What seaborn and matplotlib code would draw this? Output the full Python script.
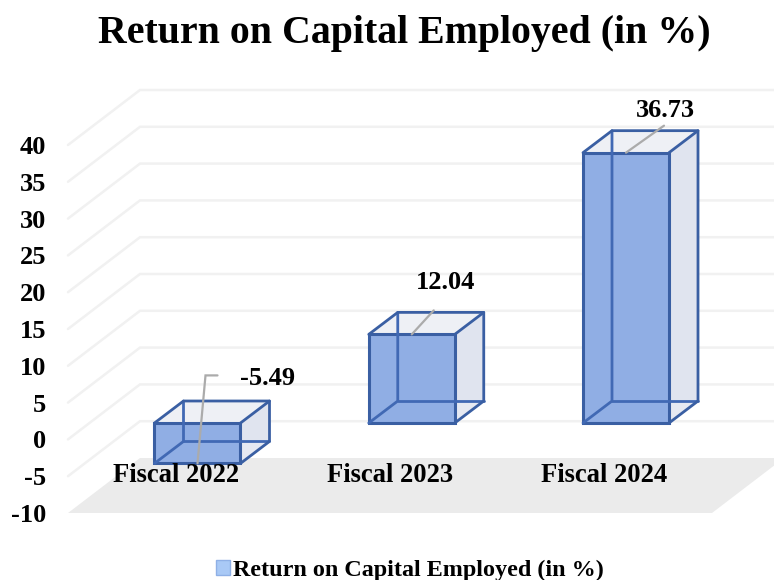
import matplotlib
matplotlib.use("Agg")
import matplotlib.pyplot as plt
from matplotlib.patches import Polygon, Patch
import seaborn as sns
import pandas as pd

categories = ["Fiscal 2022", "Fiscal 2023", "Fiscal 2024"]
values = [-5.49, 12.04, 36.73]
value_labels = ["-5.49", "12.04", "36.73"]
y_ticks = [-10, -5, 0, 5, 10, 15, 20, 25, 30, 35, 40]
series_name = "Return on Capital Employed (in %)"

sns.set_theme(style="white")
plt.rcParams["font.family"] = ["Liberation Serif", "DejaVu Serif"]
plt.rcParams["font.weight"] = "bold"

W, H = 774, 580
fig = plt.figure(figsize=(W / 100, H / 100), dpi=100)
L, R, T, B = 68, 774, 60, 513
ax = fig.add_axes([L / W, 1 - B / H, (R - L) / W, (B - T) / H])

# layout scales of the pseudo-3D projection (pixels per data unit)
PX = 214.25
PY = 7.36
Y0 = 423
X0 = 197.5
ux, uy = 1 / PX, 1 / PY

FRONT = "#3A5FA3"
INNER = "#4169B4"
df = pd.DataFrame({"cat": categories, "val": values})
sns.barplot(data=df, x="cat", y="val", order=categories, color="#90AEE4",
            saturation=1, width=86 / PX, ax=ax, edgecolor=FRONT, linewidth=2.2)
ax.set_xlim((L - X0) * ux, (R - X0) * ux)
ax.set_ylim((Y0 - B) * uy, (Y0 - T) * uy)
ax.set_xlabel("")
ax.set_ylabel("")
sns.despine(ax=ax, left=True, bottom=True, top=True, right=True)

# floor and walls
wall_dx, wall_dy = 72 * ux, 55 * uy
wall_base = (Y0 - B) * uy
x_left = (L - X0) * ux
x_right = (712 - X0) * ux
ax.add_patch(Polygon([(x_left, wall_base), (x_right, wall_base),
                      (x_right + wall_dx, wall_base + wall_dy),
                      (x_left + wall_dx, wall_base + wall_dy)],
                     closed=True, fc="#EBEBEB", ec="none", zorder=0.1, clip_on=False))
wall_shift = -16.4 * uy
for v in y_ticks[1:]:
    yv = v + wall_shift
    ax.plot([x_left, x_left + wall_dx, x_right + wall_dx],
            [yv, yv + wall_dy, yv + wall_dy], color="#F1F1F1", lw=1.8,
            zorder=0.2, clip_on=False, solid_joinstyle="miter")

# box depth drawn from the bars seaborn created
bar_dx, bar_dy = 29 * ux, 22 * uy
for p in ax.containers[0]:
    p.set_zorder(1)
    p.set_edgecolor(FRONT)
    x0, x1 = p.get_x(), p.get_x() + p.get_width()
    lo, hi = sorted((p.get_y(), p.get_y() + p.get_height()))
    ax.add_patch(Polygon([(x1, lo), (x1 + bar_dx, lo + bar_dy),
                          (x1 + bar_dx, hi + bar_dy), (x1, hi)],
                         fc="#E0E4EF", ec="none", zorder=0.5))
    ax.add_patch(Polygon([(x0, hi), (x1, hi), (x1 + bar_dx, hi + bar_dy),
                          (x0 + bar_dx, hi + bar_dy)],
                         fc="#EEF0F5", ec="none", zorder=0.5))
    ax.add_patch(Polygon([(x0, lo), (x1, lo), (x1 + bar_dx, lo + bar_dy),
                          (x0 + bar_dx, lo + bar_dy)],
                         fc="#E6E9F2", ec="none", zorder=0.5))
    kw = dict(color=INNER, lw=2.0, zorder=1.2, solid_capstyle="round")
    ax.plot([x0, x0 + bar_dx, x0 + bar_dx], [lo, lo + bar_dy, hi + bar_dy], **kw)
    ax.plot([x0 + bar_dx, x1 + bar_dx], [lo + bar_dy, lo + bar_dy], **kw)
    kw["color"] = FRONT
    ax.plot([x0, x0 + bar_dx, x1 + bar_dx, x1 + bar_dx, x1],
            [hi, hi + bar_dy, hi + bar_dy, lo + bar_dy, lo], **kw)
    ax.plot([x1, x1 + bar_dx], [hi, hi + bar_dy], **kw)

# tick labels
ax.set_yticks([v + wall_shift for v in y_ticks])
ax.set_yticklabels([str(v) for v in y_ticks], fontsize=19, fontweight="bold", color="black")
ax.tick_params(axis="y", length=0, pad=15.5)
ax.set_xticks([i - 21.5 * ux for i in range(len(categories))])
ax.set_xticklabels(categories, fontsize=19.2, fontweight="bold", color="black")
ax.tick_params(axis="x", length=0, pad=-36)
ax.set_axisbelow(False)

# data labels with leader lines: (bar x offset px, leader path px, label offset px)
leaders = [
    [(0, 0), (8, -88), (20, -88)],
    [(0, 0), (22, -24)],
    [(0, 0), (38, -27)],
]
label_off = [(70, -85), (34, -52), (39, -42)]
for i, (v, lab) in enumerate(zip(values, value_labels)):
    xs = [i + dx * ux for dx, _ in leaders[i]]
    ys = [v - dy * uy for _, dy in leaders[i]]
    ax.plot(xs, ys, color="#ABABAB", lw=1.6, zorder=2, solid_joinstyle="miter")
    ax.text(i + label_off[i][0] * ux, v - label_off[i][1] * uy, lab, ha="center",
            va="center", fontsize=19, fontweight="bold", color="black", zorder=3)

# legend and title
fig.legend(handles=[Patch(fc="#A9C9F6", ec="#8FB0E6", lw=1, label=series_name)],
           loc="center", bbox_to_anchor=(409.5 / W, 1 - 570.5 / H), frameon=False,
           prop={"size": 17.4, "weight": "bold"}, handlelength=0.58, handleheight=0.58,
           handletextpad=0.12, borderpad=0, labelcolor="black")
fig.text(404 / W, 1 - 34 / H, series_name, ha="center", va="center", fontsize=28.7,
         fontweight="bold", color="black")

fig.savefig("out.png", dpi=100)
